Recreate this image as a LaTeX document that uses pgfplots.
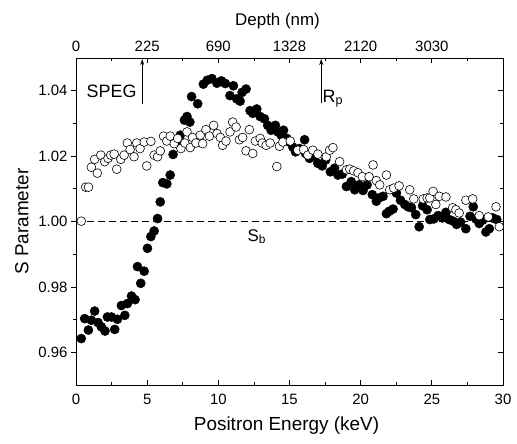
\documentclass[border=0pt]{standalone}
\usepackage{fontspec}
\setmainfont{Liberation Sans}
\usepackage{pgfplots}
\pgfplotsset{compat=1.18}
\usetikzlibrary{arrows.meta}

\pgfplotsset{
  frame/.style={
    width=427bp, height=327bp, scale only axis,
    at={(0,0)}, anchor=south west,
    xmin=0, xmax=30, ymin=0.95, ymax=1.05,
    axis line style={line width=0.9pt},
    every tick/.style={black, line width=0.8pt},
    major tick length=5bp, minor tick length=3bp,
    every tick label/.append style={font=\fontsize{15}{17}\selectfont},
    /pgf/number format/assume math mode=true,
    label style={font=\fontsize{19}{21}\selectfont},
  },
}

\begin{document}
\begin{tikzpicture}
\useasboundingbox (-76bp,-59bp) rectangle (441bp,385bp);

%% main axis: data, bottom ticks, right ticks (inside)
\begin{axis}[
  frame,
  tick align=inside,
  xtick={0,5,10,15,20,25,30}, minor x tick num=1, xtick pos=bottom,
  xticklabel style={yshift=-6bp},
  ytick={0.96,0.98,1.00,1.02,1.04}, minor y tick num=1, ytick pos=right,
  yticklabels={},
  xlabel={Positron Energy (keV)},
  xlabel style={at={(axis description cs:0.493,-0.125)}, anchor=center},
]
%% filled: S vs E
\addplot[only marks, mark=*, mark size=4.6bp, black] coordinates {
(0.37,0.9642)(0.61,0.9703)(0.87,0.9668)(1.08,0.9698)(1.31,0.9726)(1.55,0.9691)
(1.78,0.9678)(2.04,0.9665)(2.21,0.9708)(2.49,0.9708)(2.72,0.9670)(2.91,0.9701)
(3.19,0.9743)(3.43,0.9713)(3.61,0.9749)(3.90,0.9772)(4.15,0.9761)(4.32,0.9862)
(4.55,0.9811)(4.79,0.9848)(5.02,0.9918)(5.26,0.9954)(5.49,0.9971)(5.73,1.0009)
(5.92,1.0060)(6.10,1.0119)(6.38,1.0115)(6.62,1.0142)(6.82,1.0205)(7.10,1.0245)
(7.33,1.0264)(7.62,1.0310)(7.80,1.0321)(8.00,1.0304)(8.12,1.0382)(8.55,1.0360)
(8.95,1.0420)(9.22,1.0432)(9.55,1.0437)(9.90,1.0423)(10.22,1.0430)(10.49,1.0422)
(10.82,1.0385)(11.06,1.0415)(11.29,1.0375)(11.53,1.0368)(11.67,1.0395)(11.95,1.0405)
(12.23,1.0339)(12.42,1.0331)(12.70,1.0344)(12.94,1.0321)(13.24,1.0314)(13.47,1.0294)
(13.71,1.0279)(14.01,1.0294)(14.18,1.0274)(14.42,1.0264)(14.58,1.0279)(14.81,1.0254)
(15.00,1.0243)(15.23,1.0228)(15.42,1.0213)(15.70,1.0223)(16.06,1.0250)(16.13,1.0208)
(16.41,1.0193)(16.76,1.0198)(16.99,1.0178)(17.30,1.0170)(17.54,1.0188)(17.87,1.0152)
(18.17,1.0163)(18.40,1.0142)(18.71,1.0145)(19.00,1.0107)(19.34,1.0122)(19.58,1.0097)
(19.88,1.0112)(20.17,1.0095)(20.45,1.0112)(20.82,1.0082)(21.10,1.0062)(21.29,1.0072)
(21.57,1.0077)(21.81,1.0024)(22.00,1.0031)(22.28,1.0038)(22.51,1.0087)(22.80,1.0065)
(23.10,1.0052)(23.33,1.0045)(23.57,1.0042)(23.87,1.0021)(24.11,0.9984)(24.35,1.0048)
(24.67,1.0036)(24.86,1.0006)(25.14,1.0008)(25.44,1.0018)(25.75,1.0011)(25.99,1.0028)
(26.22,1.0006)(26.50,1.0001)(26.74,0.9991)(27.02,0.9998)(27.39,0.9978)(27.68,1.0016)
(27.91,1.0045)(28.10,1.0008)(28.33,0.9994)(28.57,1.0004)(28.80,0.9968)(29.04,0.9978)
(29.27,1.0011)(29.56,1.0006)
};
%% open circles
\addplot[only marks, mark=*, mark size=4.4bp, mark options={fill=white, draw=black, line width=0.6pt}] coordinates {
(0.37,1.0001)(0.68,1.0105)(0.88,1.0105)(1.08,1.0166)(1.31,1.0190)(1.50,1.0148)
(1.74,1.0203)(2.02,1.0183)(2.25,1.0193)(2.44,1.0203)(2.68,1.0206)(2.86,1.0160)
(3.15,1.0190)(3.38,1.0203)(3.61,1.0240)(3.80,1.0220)(4.08,1.0198)(4.27,1.0240)
(4.50,1.0223)(4.79,1.0243)(4.97,1.0170)(5.26,1.0245)(5.49,1.0203)(5.73,1.0198)
(5.92,1.0216)(6.15,1.0261)(6.38,1.0246)(6.62,1.0261)(6.90,1.0238)(7.14,1.0254)
(7.37,1.0223)(7.65,1.0240)(7.80,1.0274)(8.03,1.0226)(8.19,1.0257)(8.43,1.0240)
(8.73,1.0264)(8.90,1.0238)(9.13,1.0281)(9.37,1.0261)(9.67,1.0294)(9.91,1.0269)
(10.14,1.0257)(10.30,1.0233)(10.54,1.0246)(10.82,1.0274)(11.01,1.0304)(11.25,1.0289)
(11.48,1.0250)(11.71,1.0257)(11.95,1.0216)(12.18,1.0281)(12.42,1.0208)(12.60,1.0246)
(12.94,1.0254)(13.08,1.0240)(13.36,1.0233)(13.64,1.0240)(14.11,1.0168)(14.30,1.0230)
(14.53,1.0243)(15.05,1.0246)(15.58,1.0218)(15.99,1.0220)(16.29,1.0203)(16.64,1.0218)
(16.99,1.0206)(17.58,1.0198)(17.82,1.0218)(18.05,1.0226)(18.52,1.0183)(19.00,1.0158)
(19.23,1.0160)(19.51,1.0155)(19.81,1.0149)(20.12,1.0137)(20.59,1.0137)(20.87,1.0173)
(21.10,1.0125)(21.34,1.0112)(21.81,1.0142)(22.04,1.0097)(22.32,1.0102)(22.70,1.0109)
(23.45,1.0097)(23.73,1.0069)(24.39,1.0069)(24.67,1.0072)(24.86,1.0072)(25.09,1.0092)
(25.28,1.0052)(25.52,1.0077)(25.99,1.0075)(26.46,1.0042)(26.69,1.0036)(26.92,1.0026)
(27.39,1.0065)(27.87,1.0069)(28.33,1.0018)(28.97,1.0014)(29.51,1.0045)(29.74,0.9984)
};
%% bulk S_b reference
\addplot[black, line width=0.8pt, dash pattern=on 7bp off 4bp] coordinates {(0,1.00)(30,1.00)};
%% markers
\draw[-{Stealth[length=6bp,width=4bp]}, line width=0.8pt] (axis cs:4.65,1.0360) -- (axis cs:4.65,1.0497);
\draw[-{Stealth[length=6bp,width=4bp]}, line width=0.8pt] (axis cs:17.23,1.0361) -- (axis cs:17.23,1.0497);
\node[anchor=base east, inner sep=0pt, font=\fontsize{18}{20}\selectfont] at (axis cs:4.27,1.0380) {SPEG};
\node[anchor=base west, inner sep=0pt, font=\fontsize{18}{20}\selectfont] at (axis cs:17.32,1.0365) {R\textsubscript{p}};
\node[anchor=base west, inner sep=0pt, font=\fontsize{17}{19}\selectfont] at (axis cs:12.04,0.9940) {S\textsubscript{b}};
\end{axis}

%% left axis: outside ticks and labels
\begin{axis}[
  frame,
  axis x line=none, axis y line*=left,
  tick align=outside,
  ytick={0.96,0.98,1.00,1.02,1.04}, minor y tick num=1,
  yticklabel style={/pgf/number format/.cd, fixed, fixed zerofill, precision=2},
  ylabel={S Parameter},
  ylabel style={at={(axis description cs:-0.127,0.5)}, anchor=center},
]
\end{axis}

%% top axis: depth scale
\begin{axis}[
  frame,
  axis y line=none, axis x line*=top,
  tick align=inside,
  xtick={0,5,10,15,20,25,30}, minor x tick num=1,
  xticklabels={0,225,690,1328,2120,3030,},
  xticklabel style={yshift=3bp},
  xlabel={Depth (nm)},
  xlabel style={at={(axis description cs:0.472,1.112)}, anchor=center, font=\fontsize{17}{19}\selectfont},
]
\end{axis}
\end{tikzpicture}
\end{document}
